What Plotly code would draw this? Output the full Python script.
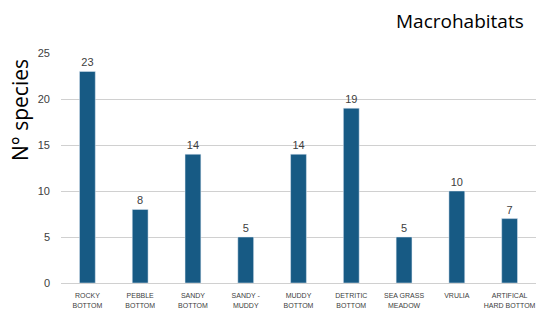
import plotly.graph_objects as go

categories = ["ROCKY<br>BOTTOM", "PEBBLE<br>BOTTOM", "SANDY<br>BOTTOM", "SANDY -<br>MUDDY<br>BOTTOM",
              "MUDDY<br>BOTTOM", "DETRITIC<br>BOTTOM", "SEA GRASS<br>MEADOW", "VRULIA",
              "ARTIFICAL<br>HARD BOTTOM"]
species = [23, 8, 14, 5, 14, 19, 5, 10, 7]
y_ticks = [0, 5, 10, 15, 20, 25]

fig = go.Figure(go.Bar(
    x=categories, y=species, text=species, textposition="outside",
    textfont=dict(size=11, color="#404040", family="Liberation Sans"),
    marker=dict(color="#175a84"), cliponaxis=False,
))
fig.update_layout(
    width=540, height=311,
    margin=dict(l=61, r=4, t=53, b=28),
    paper_bgcolor="white", plot_bgcolor="white",
    bargap=0.7, showlegend=False,
    font=dict(family="Liberation Sans", color="#404040"),
    annotations=[
        dict(text="Macrohabitats", xref="paper", yref="paper", x=1, y=1,
             xanchor="right", yanchor="bottom", yshift=17, xshift=-10, showarrow=False,
             font=dict(size=19, color="black", family="Open Sans")),
        dict(text="N° species", xref="paper", yref="paper", x=0, y=0.752, textangle=-90,
             xanchor="center", yanchor="middle", xshift=-41, showarrow=False,
             font=dict(size=21, color="black", family="Open Sans")),
    ],
    xaxis=dict(tickfont=dict(size=7, color="#404040"), showgrid=False, showline=True,
               linecolor="#d0d0d0", ticks="", tickangle=0, automargin=False,
               ticklabelstandoff=6),
    yaxis=dict(range=[0, 25], tickvals=y_ticks, showgrid=True, gridcolor="#d0d0d0",
               zeroline=False, ticks="", tickfont=dict(size=11, color="#404040"),
               ticklabelstandoff=10, automargin=False),
)
fig.write_html("out.html", config={"displayModeBar": False},
               post_script="document.body.style.margin='0';document.body.style.overflow='hidden';")
